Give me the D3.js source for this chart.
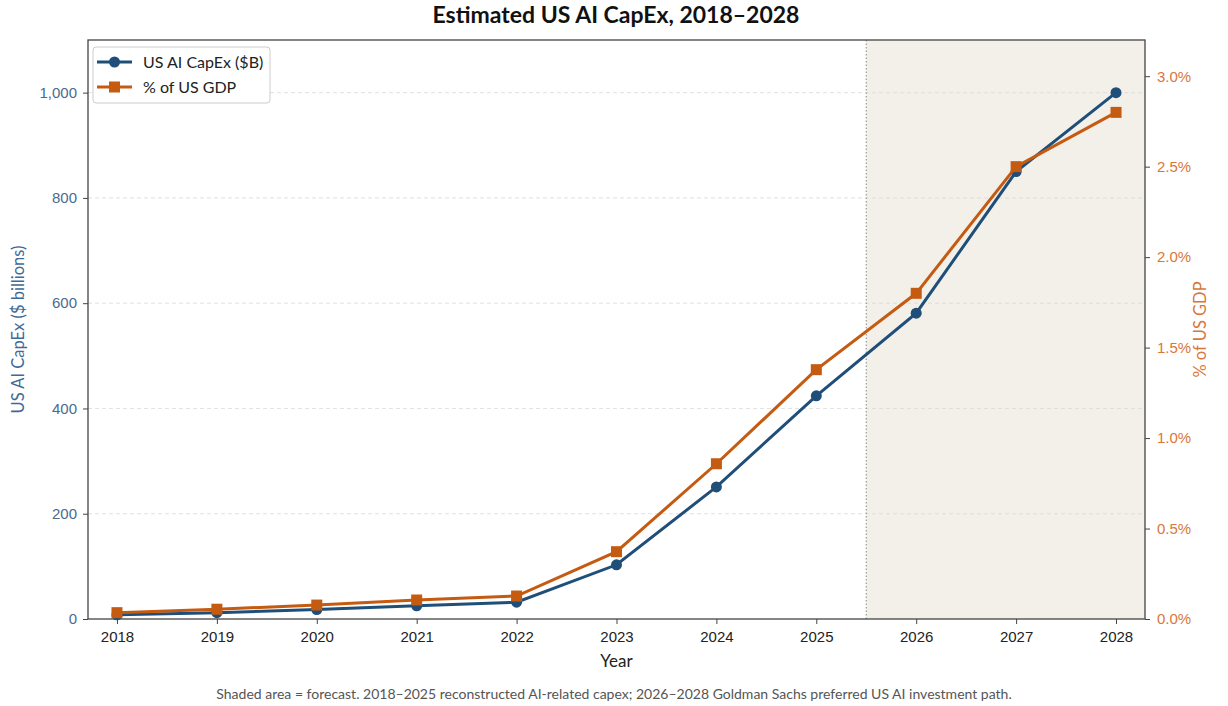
<!DOCTYPE html>
<html><head><meta charset="utf-8">
<script src="https://cdn.jsdelivr.net/npm/d3@7"></script>
<style>
body{margin:0;background:#fff;}
svg{display:block;font-family:Lato,"Open Sans",sans-serif;}
</style></head>
<body><svg id="c" width="1228" height="706"></svg>
<script>
const years = [2018,2019,2020,2021,2022,2023,2024,2025,2026,2027,2028];
const capex = [8,12,18,25,32,103,251,424,581,850,1000];
const gdpPct = [0.035,0.054,0.077,0.105,0.127,0.372,0.858,1.378,1.80,2.50,2.80];
const leftTicks = [0,200,400,600,800,1000];
const rightTicks = [0,0.5,1.0,1.5,2.0,2.5,3.0];
const forecastStart = 2025.5;
const seriesNames = ["US AI CapEx ($B)","% of US GDP"];

const W=1228,H=706, m={l:88,r:83,t:40,b:87};
const blue="#1f4e79", orange="#c55a11";
const svg=d3.select("#c");
const x=d3.scaleLinear().domain([2017.71,2028.29]).range([m.l,W-m.r]);
const yL=d3.scaleLinear().domain([0,1100]).range([H-m.b,m.t]);
const yR=d3.scaleLinear().domain([0,3.2]).range([H-m.b,m.t]);

// forecast shading
svg.append("rect").attr("x",x(forecastStart)).attr("y",m.t)
  .attr("width",x.range()[1]-x(forecastStart)).attr("height",H-m.b-m.t)
  .attr("fill","#f3f0ea");
// grid
svg.append("g").selectAll("line").data(leftTicks.filter(d=>d>0)).join("line")
  .attr("x1",m.l).attr("x2",W-m.r).attr("y1",d=>yL(d)).attr("y2",d=>yL(d))
  .attr("stroke","#d9d9d9").attr("stroke-width",0.8).attr("stroke-dasharray","4,3");
svg.append("line").attr("x1",x(forecastStart)).attr("x2",x(forecastStart))
  .attr("y1",m.t).attr("y2",H-m.b).attr("stroke","#999").attr("stroke-width",1.2)
  .attr("stroke-dasharray","1.5,2");

// axes
const axL=svg.append("g").attr("transform",`translate(${m.l},0)`)
  .call(d3.axisLeft(yL).tickValues(leftTicks).tickFormat(d3.format(",")).tickSizeOuter(0).tickSize(5).tickPadding(6));
axL.selectAll("text").attr("fill","#4a6b8f").style("font-size","15px");
const axR=svg.append("g").attr("transform",`translate(${W-m.r},0)`)
  .call(d3.axisRight(yR).tickValues(rightTicks).tickFormat(d=>d.toFixed(1)+"%").tickSizeOuter(0).tickSize(5).tickPadding(7));
axR.selectAll("text").attr("fill","#d9773a").style("font-size","15px");
const axB=svg.append("g").attr("transform",`translate(0,${H-m.b})`)
  .call(d3.axisBottom(x).tickValues(years).tickFormat(d3.format("d")).tickSizeOuter(0).tickSize(5).tickPadding(7));
axB.selectAll("text").attr("fill","#222").style("font-size","15px");
[axL,axR,axB].forEach(a=>{a.select(".domain").remove();a.selectAll(".tick line").attr("stroke","#444");});
// frame
svg.append("rect").attr("x",m.l).attr("y",m.t).attr("width",W-m.l-m.r).attr("height",H-m.t-m.b)
  .attr("fill","none").attr("stroke","#444").attr("stroke-width",1.3);

// lines
const data=years.map((y,i)=>({y,c:capex[i],g:gdpPct[i]}));
svg.append("path").datum(data).attr("fill","none").attr("stroke",blue).attr("stroke-width",3)
  .attr("d",d3.line().x(d=>x(d.y)).y(d=>yL(d.c)));
svg.append("g").selectAll("circle").data(data).join("circle")
  .attr("cx",d=>x(d.y)).attr("cy",d=>yL(d.c)).attr("r",5.5).attr("fill",blue);
svg.append("path").datum(data).attr("fill","none").attr("stroke",orange).attr("stroke-width",3)
  .attr("d",d3.line().x(d=>x(d.y)).y(d=>yR(d.g)));
svg.append("g").selectAll("rect").data(data).join("rect")
  .attr("x",d=>x(d.y)-5.5).attr("y",d=>yR(d.g)-5.5).attr("width",11).attr("height",11).attr("fill",orange);

// titles
svg.append("text").attr("x",616).attr("y",23).attr("text-anchor","middle")
  .style("font-size","23px").style("font-weight","bold").attr("fill","#111").text("Estimated US AI CapEx, 2018–2028");
svg.append("text").attr("x",(m.l+W-m.r)/2).attr("y",667).attr("text-anchor","middle")
  .style("font-size","17px").attr("fill","#222").text("Year");
svg.append("text").attr("transform",`translate(24,${(m.t+H-m.b)/2}) rotate(-90)`).attr("text-anchor","middle")
  .style("font-size","16.5px").attr("fill","#3f6a96").text("US AI CapEx ($ billions)");
svg.append("text").attr("transform",`translate(1206,${(m.t+H-m.b)/2}) rotate(-90)`).attr("text-anchor","middle")
  .style("font-size","16.5px").attr("fill","#d9773a").text("% of US GDP");
svg.append("text").attr("x",614).attr("y",699).attr("text-anchor","middle")
  .style("font-size","14px").attr("fill","#555")
  .text("Shaded area = forecast. 2018–2025 reconstructed AI-related capex; 2026–2028 Goldman Sachs preferred US AI investment path.");

// legend
const lg=svg.append("g");
lg.append("rect").attr("x",93).attr("y",47).attr("width",177).attr("height",56).attr("rx",3)
  .attr("fill","#fff").attr("fill-opacity",0.9).attr("stroke","#ccc");
[[blue,"c"],[orange,"s"]].forEach(([col,t],i)=>{
  const yy=62+i*25;
  lg.append("line").attr("x1",97).attr("x2",132).attr("y1",yy).attr("y2",yy).attr("stroke",col).attr("stroke-width",3);
  if(t==="c") lg.append("circle").attr("cx",114.5).attr("cy",yy).attr("r",5.5).attr("fill",col);
  else lg.append("rect").attr("x",109).attr("y",yy-5.5).attr("width",11).attr("height",11).attr("fill",col);
  lg.append("text").attr("x",143).attr("y",yy+5.5).style("font-size","16px").attr("fill","#222").text(seriesNames[i]);
});
</script></body></html>
